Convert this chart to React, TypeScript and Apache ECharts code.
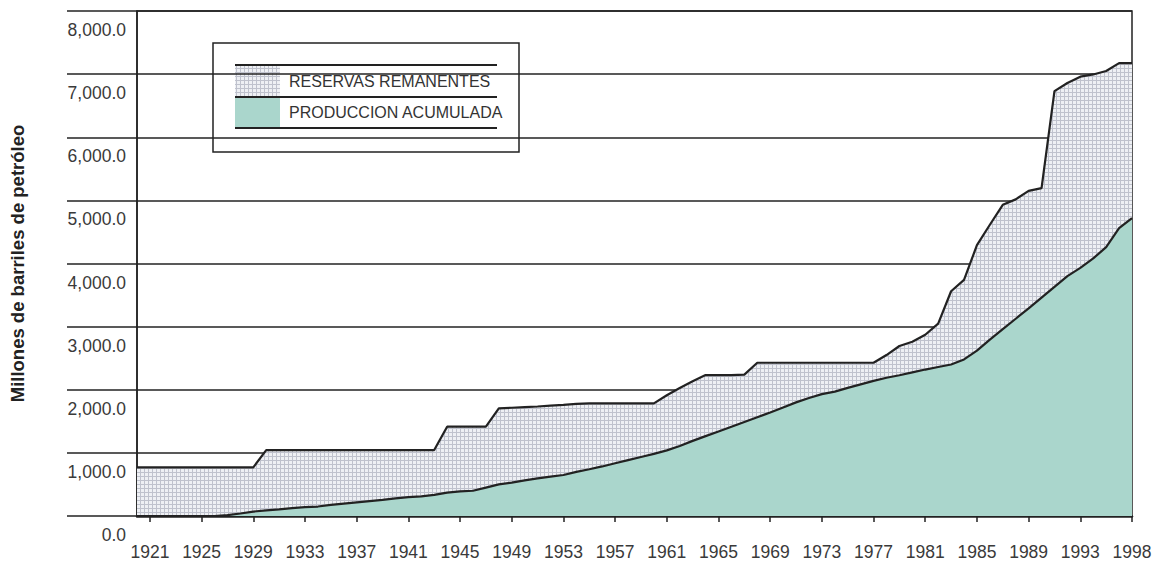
import React, { useEffect, useRef } from "react";
import * as echarts from "echarts";

const years = [
  "1920", "1921", "1922", "1923", "1924", "1925", "1926", "1927", "1928", "1929",
  "1930", "1931", "1932", "1933", "1934", "1935", "1936", "1937", "1938", "1939",
  "1940", "1941", "1942", "1943", "1944", "1945", "1946", "1947", "1948", "1949",
  "1950", "1951", "1952", "1953", "1954", "1955", "1956", "1957", "1958", "1959",
  "1960", "1961", "1962", "1963", "1964", "1965", "1966", "1967", "1968", "1969",
  "1970", "1971", "1972", "1973", "1974", "1975", "1976", "1977", "1978", "1979",
  "1980", "1981", "1982", "1983", "1984", "1985", "1986", "1987", "1988", "1989",
  "1990", "1991", "1992", "1993", "1994", "1995", "1996", "1998",
];

// Reservas originales totales (producción acumulada + reservas remanentes)
const totalReserves = [
  770, 770, 770, 770, 770, 770, 770, 770, 770, 770,
  1045, 1045, 1045, 1045, 1045, 1045, 1045, 1045, 1045, 1045,
  1045, 1045, 1045, 1045, 1415, 1415, 1415, 1415, 1706, 1715,
  1725, 1735, 1750, 1760, 1775, 1785, 1785, 1785, 1785, 1785,
  1785, 1913, 2029, 2136, 2233, 2233, 2233, 2240, 2428, 2428,
  2428, 2428, 2428, 2428, 2428, 2428, 2428, 2428, 2550, 2693,
  2760, 2871, 3047, 3560, 3740, 4290, 4614, 4930, 5016, 5150,
  5195, 6730, 6860, 6960, 6995, 7050, 7175, 7175,
];

const cumulativeProduction = [
  0, 0, 0, 0, 0, 0, 0, 15, 40, 70,
  90, 105, 125, 140, 150, 175, 195, 215, 235, 255,
  280, 298, 310, 335, 370, 390, 400, 450, 500, 530,
  565, 595, 625, 650, 700, 740, 785, 835, 885, 935,
  985, 1040, 1110, 1190, 1265, 1340, 1415, 1490, 1565, 1640,
  1720, 1800, 1870, 1930, 1970, 2030, 2085, 2140, 2190, 2230,
  2275, 2320, 2360, 2400, 2480, 2620, 2795, 2960, 3125, 3290,
  3460, 3630, 3800, 3930, 4080, 4260, 4560, 4720,
];

const yTicks = [0, 1000, 2000, 3000, 4000, 5000, 6000, 7000, 8000];

const seriesNames = ["RESERVAS REMANENTES", "PRODUCCION ACUMULADA"];

const FONT = "'Liberation Sans', Arial, Helvetica, sans-serif";
const TEAL = "#aad6cc";
const INK = "#222";

function makeHatch(): any {
  const c = document.createElement("canvas");
  c.width = 4;
  c.height = 4;
  const ctx = c.getContext("2d");
  if (ctx) {
    ctx.fillStyle = "#eef0f4";
    ctx.fillRect(0, 0, 4, 4);
    ctx.fillStyle = "#bfc2cd";
    ctx.fillRect(0, 0, 4, 1);
    ctx.fillRect(0, 0, 1, 4);
  }
  return { image: c, repeat: "repeat" };
}

export default function App() {
  const ref = useRef<HTMLDivElement>(null);

  useEffect(() => {
    if (!ref.current) return;
    const chart = echarts.init(ref.current, null, { renderer: "svg" });
    const hatch = makeHatch();
    const remaining = totalReserves.map((t, i) => t - cumulativeProduction[i]);
    const showIdx = (i: number) => (i - 1) % 4 === 0 && i >= 1;

    chart.setOption({
      animation: false,
      backgroundColor: "#ffffff",
      grid: {
        left: 130,
        right: 26,
        top: 11,
        bottom: 51,
        show: true,
        borderColor: INK,
        borderWidth: 1.5,
        backgroundColor: "transparent",
      },
      xAxis: {
        type: "category",
        data: years,
        boundaryGap: false,
        axisLine: { show: true, lineStyle: { color: INK, width: 2.5 } },
        axisTick: {
          show: true,
          length: 6,
          interval: (i: number) => showIdx(i),
          lineStyle: { color: INK, width: 1.5 },
        },
        axisLabel: {
          interval: (i: number) => showIdx(i),
          margin: 27,
          fontSize: 17.5,
          color: "#3a3a3a",
          fontFamily: FONT,
        },
        splitLine: { show: false },
      },
      yAxis: {
        type: "value",
        min: yTicks[0],
        max: yTicks[yTicks.length - 1],
        interval: 1000,
        name: "Millones de barriles de petróleo",
        nameLocation: "middle",
        nameRotate: 90,
        nameGap: 110,
        nameTextStyle: {
          fontSize: 18.5,
          fontWeight: "bold",
          color: INK,
          fontFamily: FONT,
        },
        axisLine: { show: true, lineStyle: { color: INK, width: 1.5 } },
        axisTick: { show: true, length: 70, lineStyle: { color: INK, width: 1.5 } },
        axisLabel: {
          margin: 11,
          fontSize: 17.5,
          color: "#3a3a3a",
          fontFamily: FONT,
          verticalAlign: "top",
          padding: [10, 0, 0, 0],
          formatter: (v: number) =>
            v.toLocaleString("en-US", { minimumFractionDigits: 1, maximumFractionDigits: 1 }),
        },
        splitLine: { show: true, lineStyle: { color: INK, width: 1.5 } },
      },
      series: [
        {
          name: seriesNames[1],
          type: "line",
          stack: "total",
          data: cumulativeProduction,
          symbol: "none",
          lineStyle: { color: INK, width: 2.2 },
          areaStyle: { color: TEAL, opacity: 1 },
          z: 3,
        },
        {
          name: seriesNames[0],
          type: "line",
          stack: "total",
          data: remaining,
          symbol: "none",
          lineStyle: { color: INK, width: 2.2 },
          areaStyle: { color: hatch, opacity: 1 },
          z: 2,
        },
      ],
      graphic: [
        {
          type: "group",
          z: 100,
          children: [
            {
              type: "rect",
              shape: { x: 213, y: 43, width: 306, height: 109 },
              style: { fill: "#ffffff", stroke: INK, lineWidth: 1.5 },
            },
            {
              type: "rect",
              shape: { x: 235, y: 66, width: 45, height: 31 },
              style: { fill: hatch },
            },
            {
              type: "rect",
              shape: { x: 235, y: 97, width: 45, height: 31 },
              style: { fill: TEAL },
            },
            {
              type: "line",
              shape: { x1: 235, y1: 65, x2: 497, y2: 65 },
              style: { stroke: INK, lineWidth: 2 },
            },
            {
              type: "line",
              shape: { x1: 235, y1: 97, x2: 497, y2: 97 },
              style: { stroke: INK, lineWidth: 2 },
            },
            {
              type: "line",
              shape: { x1: 235, y1: 128, x2: 497, y2: 128 },
              style: { stroke: INK, lineWidth: 2 },
            },
            {
              type: "text",
              x: 289,
              y: 81.5,
              style: {
                text: seriesNames[0],
                fontSize: 16,
                fontFamily: FONT,
                fill: "#333",
                verticalAlign: "middle",
                align: "left",
              },
            },
            {
              type: "text",
              x: 289,
              y: 112.5,
              style: {
                text: seriesNames[1],
                fontSize: 16,
                fontFamily: FONT,
                fill: "#333",
                verticalAlign: "middle",
                align: "left",
              },
            },
          ],
        },
      ],
    });

    return () => chart.dispose();
  }, []);

  return (
    <div
      ref={ref}
      style={{ position: "fixed", left: 0, top: 0, width: 1158, height: 567, background: "#fff" }}
    />
  );
}
